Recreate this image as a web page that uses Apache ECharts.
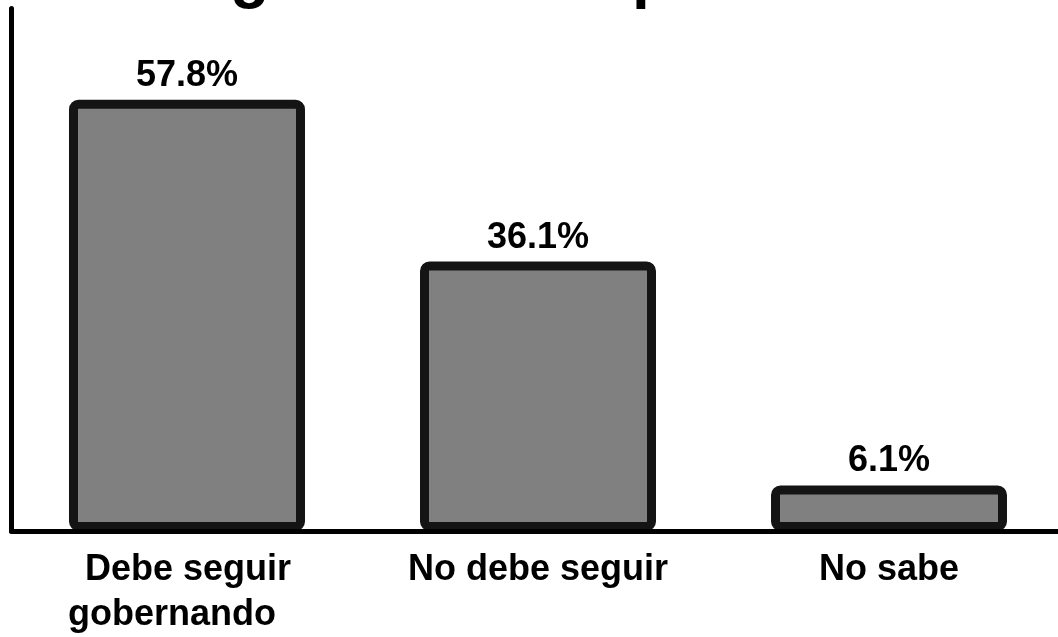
<!DOCTYPE html>
<html>
<head>
<meta charset="utf-8">
<script src="https://cdn.jsdelivr.net/npm/echarts@6/dist/echarts.min.js"></script>
<style>
html,body{margin:0;padding:0;background:#fff;}
#chart{width:1058px;height:637px;}
</style>
</head>
<body>
<div id="chart"></div>
<script>
var titleText = 'El gobierno del presidente';
var categories = ['Debe seguir\ngobernando', 'No debe seguir', 'No sabe'];
var values = [57.8, 36.1, 6.1];
var valueLabels = ['57.8%', '36.1%', '6.1%'];

var font = 'Liberation Sans, Arial, Helvetica, sans-serif';
var chart = echarts.init(document.getElementById('chart'), null, {renderer: 'canvas'});
chart.setOption({
  animation: false,
  backgroundColor: '#ffffff',
  title: {
    text: titleText,
    left: 152,
    top: -54,
    padding: 0,
    textStyle: {fontFamily: font, fontSize: 64, fontWeight: 'bold', color: '#000'}
  },
  grid: {left: 11.5, top: 8.6, width: 1053, bottom: 106, containLabel: false, outerBoundsMode: 'none'},
  xAxis: {
    type: 'category',
    data: categories,
    axisLine: {lineStyle: {color: '#000', width: 5, cap: 'round'}},
    axisTick: {show: false},
    z: 3,
    axisLabel: {
      margin: 17,
      interval: 0,
      fontFamily: font,
      fontSize: 36,
      fontWeight: 'bold',
      color: '#000',
      lineHeight: 45,
      formatter: function (v, i) {
        var parts = v.split('\n');
        if (parts.length > 1) {
          return '{a|' + parts[0] + '}\n{b|' + parts[1] + '}';
        }
        return '{c|' + v + '}';
      },
      rich: {
        a: {fontFamily: font, fontSize: 36, fontWeight: 'bold', color: '#000', lineHeight: 45, align: 'right', padding: [0, 15, 0, 0]},
        b: {fontFamily: font, fontSize: 36, fontWeight: 'bold', color: '#000', lineHeight: 45, align: 'left', width: 238},
        c: {fontFamily: font, fontSize: 36, fontWeight: 'bold', color: '#000', lineHeight: 45}
      }
    }
  },
  yAxis: {
    type: 'value',
    min: 0,
    max: 70,
    axisLine: {show: true, lineStyle: {color: '#000', width: 5, cap: 'round'}},
    axisTick: {show: false},
    axisLabel: {show: false},
    splitLine: {show: false}
  },
  series: [{
    type: 'bar',
    data: values,
    barWidth: 236,
    itemStyle: {color: '#808080', borderColor: '#141414', borderWidth: 9, borderRadius: 5},
    label: {
      show: true,
      position: 'top',
      distance: 6,
      fontFamily: font,
      fontSize: 36,
      fontWeight: 'bold',
      color: '#000',
      formatter: function (p) { return valueLabels[p.dataIndex]; }
    }
  }]
});
</script>
</body>
</html>
